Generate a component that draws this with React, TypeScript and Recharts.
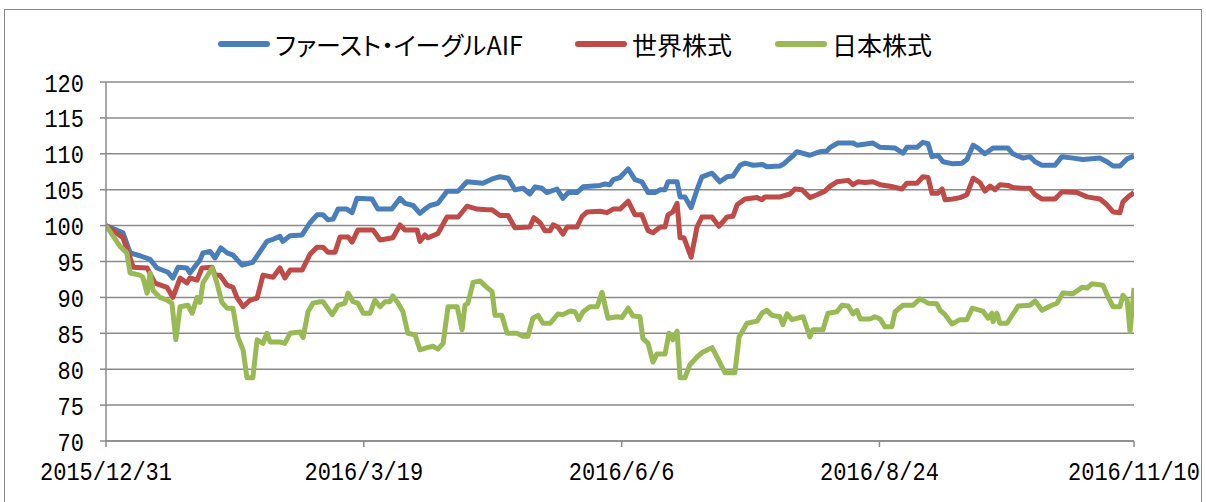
import { LineChart, Line, XAxis, YAxis, CartesianGrid } from 'recharts';

// days counted from 2015/12/31
const tickDays = [0, 79, 158, 237, 315];
const tickLabels = ['2015/12/31', '2016/3/19', '2016/6/6', '2016/8/24', '2016/11/10'];
const yTicks = [70, 75, 80, 85, 90, 95, 100, 105, 110, 115, 120];

const aifDays = [
    0, 5.2, 7.4, 10.4, 13.5, 15.6, 19, 20.5, 22.1, 24.8, 25.7, 28.8, 29.7, 31.9, 33.4, 35.2, 37.1, 38.9, 41.7, 45,
    49.3, 51.2, 53.3, 54.2, 56.4, 60.1, 62.5, 64.7, 66.5, 68, 69.6, 71.1, 73.8, 75.4, 76.9, 81.5, 83.3, 87.6, 90.1, 91.6,
    94.1, 96.2, 97.7, 99.3, 101.7, 104.5, 107.9, 110.6, 115.5, 118.3, 120.7, 123.2, 125.3, 127.8, 129.9, 131.5, 133.6, 135.1, 138.2, 140,
    141.6, 144.3, 146.2, 151.4, 152.9, 154.4, 155.4, 157.5, 160, 162.1, 164.2, 166.1, 168.2, 169.8, 171.3, 172.2, 175, 175.9, 177.4, 179.3,
    181.1, 182.6, 185.7, 188.1, 190.3, 192.1, 194.3, 195.8, 198.3, 201.3, 202.5, 206.5, 207.4, 210.2, 211.7, 215.7, 218.8, 220.9, 221.9, 224.3,
    228.9, 230.1, 235, 237.2, 241.8, 244.2, 245.4, 248.5, 250.3, 251.9, 253.1, 254.9, 256.5, 259.5, 262.3, 263.8, 265.7, 267.2, 269.3, 271.8,
    276.4, 277.9, 281, 283.1, 284.7, 286.8, 290.8, 292.9, 296.3, 299.4, 304.6, 306.7, 308.6, 310.7, 312.9, 315,
];
const aifValues = [
    100, 99.0, 96.2, 95.8, 95.3, 94.1, 93.5, 92.7, 94.2, 94.1, 93.4, 95.2, 96.2, 96.4, 95.5, 96.9, 96.2, 95.9, 94.5, 94.9,
    97.8, 98.1, 98.5, 97.8, 98.6, 98.7, 100.4, 101.5, 101.5, 100.8, 100.9, 102.3, 102.3, 101.8, 103.8, 103.7, 102.3, 102.3, 103.8, 103.1,
    102.8, 101.7, 102.3, 102.8, 103.1, 104.8, 104.8, 106.1, 105.9, 106.5, 106.8, 106.6, 105.0, 105.2, 104.4, 105.4, 105.2, 104.6, 105.1, 103.8,
    104.6, 104.6, 105.4, 105.6, 105.8, 105.7, 106.4, 106.7, 107.9, 106.4, 106.1, 104.6, 104.6, 105.0, 105.0, 106.1, 106.1, 104.0, 104.0, 102.5,
    105.0, 106.8, 107.3, 106.1, 106.8, 106.9, 108.4, 108.7, 108.4, 108.5, 108.2, 108.3, 108.5, 109.6, 110.3, 109.8, 110.3, 110.4, 110.9, 111.5,
    111.5, 111.2, 111.5, 110.9, 110.8, 110.1, 110.9, 110.9, 111.6, 111.4, 109.6, 109.8, 108.9, 108.6, 108.7, 109.2, 111.2, 110.8, 110.0, 110.8,
    110.8, 110.0, 109.4, 109.6, 108.9, 108.4, 108.4, 109.6, 109.4, 109.2, 109.4, 108.9, 108.3, 108.3, 109.3, 109.7,
];

const worldDays = [
    0, 5.2, 7.4, 8.3, 12.6, 15, 18.7, 20.5, 22.7, 24.8, 25.7, 27.9, 29.4, 32.5, 33.4, 34.9, 37.1, 38.9, 40.1, 42,
    44.1, 46.3, 48.1, 51.2, 53.3, 54.8, 56.4, 60.1, 62.5, 64.7, 66.5, 68, 70.2, 71.7, 74.2, 75.4, 77.2, 81.8, 84, 87.9,
    90.1, 91.6, 95.3, 96.2, 97.7, 98.7, 101.7, 104.5, 107.9, 110.6, 113.7, 116.7, 118.3, 120.7, 123.2, 125.3, 129.9, 131.1, 133, 134.5,
    136.1, 137, 138.5, 140, 141.3, 144.3, 145.9, 147.4, 151.4, 153.5, 155.4, 157.5, 160, 162.1, 164.2, 166.1, 167.6, 169.8, 171.3, 172.2,
    173.7, 175, 175.9, 177.1, 179.3, 181.1, 182.6, 185.7, 187.8, 190.3, 192.1, 193.4, 195.8, 199.5, 201, 201.9, 206.5, 209.6, 211.1, 213.3,
    215.7, 217.9, 220.3, 221.9, 224, 227.4, 228.9, 230.4, 232.6, 235, 237.2, 241.2, 243.9, 245.4, 248.5, 250.3, 251.9, 253.1, 254.9, 256.2,
    257.1, 259.5, 261.7, 263.8, 265.7, 267.8, 269.3, 270.9, 272.4, 273.9, 276.4, 277.9, 280.7, 283.1, 284.7, 286.8, 290.8, 292.9, 297.5, 300.6,
    304.6, 306.7, 308.6, 310.7, 311.6, 313.2, 315,
];
const worldValues = [
    100, 98.3, 95.5, 94.2, 94.1, 92.0, 91.4, 90.0, 92.7, 92.0, 92.7, 92.4, 94.1, 94.2, 93.1, 93.1, 91.7, 91.4, 90.0, 88.7,
    89.6, 89.9, 93.1, 92.8, 94.1, 92.7, 93.8, 93.8, 96.0, 97.0, 97.0, 96.3, 96.3, 98.4, 98.4, 97.7, 99.4, 99.4, 98.0, 98.3,
    100.1, 99.4, 99.4, 97.8, 98.7, 98.3, 98.9, 101.2, 101.2, 102.7, 102.3, 102.2, 102.2, 101.4, 101.4, 99.7, 99.8, 101.1, 100.4, 99.3,
    99.3, 100.1, 99.8, 98.8, 99.8, 99.8, 101.3, 101.9, 102.0, 101.8, 102.3, 102.3, 103.4, 101.5, 101.5, 99.3, 99.0, 99.8, 99.8, 101.5,
    101.9, 103.1, 98.3, 98.3, 95.6, 99.8, 101.2, 101.2, 99.9, 101.2, 101.3, 102.9, 103.7, 103.9, 103.6, 104.0, 104.0, 104.4, 105.1, 105.0,
    103.9, 104.3, 104.8, 105.5, 106.1, 106.3, 105.7, 106.1, 106.0, 106.1, 105.7, 105.4, 105.1, 105.9, 105.9, 106.8, 106.7, 104.5, 104.5, 105.1,
    103.6, 103.7, 103.9, 104.3, 106.6, 106.0, 104.8, 105.5, 105.0, 105.7, 105.6, 105.3, 105.2, 105.2, 104.3, 103.7, 103.7, 104.7, 104.6, 104.0,
    103.7, 102.9, 101.9, 101.8, 103.3, 104.0, 104.6,
];

const japanDays = [
    0, 4.3, 6.4, 7.4, 10.4, 11.3, 12.6, 13.5, 14.4, 16.5, 18.7, 20.2, 21.4, 22.7, 25.1, 26.4, 27.9, 28.8, 29.7, 32.5,
    34, 35.5, 37.1, 38.9, 40.4, 42, 43.2, 45, 46.3, 48.1, 49.3, 50.3, 53.3, 54.8, 56.4, 59.4, 60.4, 61.9, 63.4, 65.6,
    66.5, 69.3, 71.1, 73.2, 74.2, 75.7, 77.2, 78.8, 80.9, 82.4, 84, 85.5, 87, 87.9, 89.5, 91, 92.5, 94.7, 96.2, 98.4,
    100.2, 101.7, 103.3, 104.8, 107.6, 109.1, 110, 110.9, 112.5, 114.6, 116.7, 118.3, 119.2, 121.3, 122.9, 125.9, 127.8, 129.3, 130.8, 132.4,
    133.9, 136.1, 138.5, 140, 142.2, 143.7, 144.9, 146.2, 148.3, 150.5, 152, 153.8, 156.6, 158.1, 160, 161.5, 163.6, 164.5, 166.1, 167.6,
    168.8, 171.3, 172.5, 173.7, 175, 175.9, 177.4, 178.9, 181.1, 182.9, 185.7, 187.2, 188.8, 189.7, 192.7, 194, 196.4, 199.5, 201, 202.5,
    204.1, 206.5, 207.4, 208.7, 210.2, 213.6, 215.7, 216.6, 219.7, 221.2, 224, 225.5, 227.4, 228.9, 230.1, 231.1, 234.1, 235.6, 237.2, 238.7,
    240.8, 241.8, 244.2, 247.3, 249.4, 251.9, 254.6, 255.6, 257.1, 259.2, 261.7, 263.8, 265.4, 268.7, 270.3, 271.5, 271.8, 273, 273.9, 276.1,
    279.5, 283.1, 284.7, 286.8, 289.3, 291.4, 293.2, 296.3, 299.1, 300.6, 302.1, 305.5, 307, 308.6, 310.7, 311.6, 312.9, 313.8, 315,
];
const japanValues = [
    100, 97.1, 96.2, 93.4, 93.1, 92.8, 90.6, 93.4, 91.0, 90.0, 89.6, 89.2, 84.1, 88.7, 88.9, 87.8, 90.0, 89.3, 92.0, 94.1,
    92.0, 89.3, 88.5, 88.5, 84.5, 82.7, 78.8, 78.8, 84.1, 83.6, 85.0, 83.8, 83.8, 83.6, 85.0, 85.2, 84.4, 88.0, 89.2, 89.4,
    89.4, 87.6, 88.9, 89.2, 90.6, 89.4, 89.2, 87.8, 87.8, 89.6, 88.7, 89.4, 89.4, 90.2, 89.2, 88.0, 85.0, 84.8, 82.7, 83.0,
    83.2, 82.8, 83.6, 88.7, 88.7, 85.5, 88.9, 89.2, 92.1, 92.3, 91.4, 90.8, 87.5, 87.5, 85.0, 85.0, 84.6, 84.6, 87.1, 87.5,
    86.4, 86.4, 87.7, 87.6, 88.1, 88.0, 86.9, 88.0, 88.7, 88.7, 90.7, 87.1, 87.3, 87.2, 88.5, 87.4, 87.3, 84.3, 83.6, 81.0,
    82.1, 82.1, 85.0, 84.1, 85.3, 78.8, 78.8, 80.6, 81.7, 82.4, 83.0, 81.7, 80.3, 79.5, 79.5, 84.5, 86.4, 86.7, 87.8, 88.2,
    87.5, 87.3, 86.2, 87.7, 86.9, 87.3, 84.5, 85.5, 85.5, 87.8, 88.0, 88.9, 88.8, 87.7, 88.2, 87.0, 87.0, 87.3, 87.0, 85.9,
    85.9, 88.0, 88.9, 88.9, 89.8, 89.2, 89.1, 88.2, 87.6, 86.3, 86.9, 86.9, 88.5, 88.1, 87.1, 87.8, 86.6, 87.8, 86.4, 86.4,
    88.8, 88.9, 89.5, 88.2, 88.8, 89.2, 90.6, 90.5, 91.4, 91.3, 91.9, 91.7, 90.1, 88.7, 88.7, 90.3, 89.6, 85.2, 91.3,
];

const toPoints = (days: number[], values: number[]) => days.map((day, i) => ({ day, value: values[i] }));

const series = [
    { name: 'ファースト・イーグルAIF', color: '#4a7ebb', data: toPoints(aifDays, aifValues) },
    { name: '世界株式', color: '#be4b48', data: toPoints(worldDays, worldValues) },
    { name: '日本株式', color: '#98b954', data: toPoints(japanDays, japanValues) },
];

const legendPos = [218, 575, 775];

const FONT = '"Liberation Mono", monospace';

// tall, narrow tick text like the original spreadsheet font
const XTick = ({ x, y, payload }: any) => (
    <text
        transform={`translate(${x},${y}) scale(1,1.2)`}
        textAnchor="middle"
        dy="0.71em"
        fontSize={22}
        fontFamily={FONT}
        fill="#000"
    >
        {tickLabels[tickDays.indexOf(payload.value)]}
    </text>
)

const YTick = ({ x, y, payload }: any) => (
    <text
        transform={`translate(${x},${y}) scale(1,1.2)`}
        textAnchor="end"
        dy="0.36em"
        fontSize={22}
        fontFamily={FONT}
        fill="#000"
    >
        {payload.value}
    </text>
)

const App = () => {
    return (
        <div style={{ position: 'absolute', left: 0, top: 0, width: 1206, height: 502, overflow: 'hidden', background: '#fff' }}>
            {/* outer chart frame */}
            <div style={{ position: 'absolute', left: 4, top: 9, width: 1196, height: 520, border: '1.5px solid #8a8a8a' }} />

            {series.map((s, i) => (
                <div key={s.name} style={{ position: 'absolute', left: legendPos[i], top: 28, display: 'flex', alignItems: 'center', height: 32 }}>
                    <div style={{ width: 52, height: 6, borderRadius: 3, background: s.color }} />
                    <span style={{ marginLeft: 5, fontSize: 25, fontFamily: '"Noto Sans CJK JP", sans-serif', fontFeatureSettings: '"palt"', color: '#000', lineHeight: '32px' }}>
                        {s.name}
                    </span>
                </div>
            ))}

            <LineChart width={1206} height={502} margin={{ top: 82, right: 72, bottom: 21, left: 0 }} style={{ position: 'absolute', left: 0, top: 0 }}>
                <CartesianGrid vertical={false} stroke="#8a8a8a" strokeWidth={1.5} />
                <XAxis
                    dataKey="day"
                    type="number"
                    domain={[0, 315]}
                    ticks={tickDays}
                    interval={0}
                    height={40}
                    tick={<XTick />}
                    tickSize={6}
                    tickMargin={14}
                    stroke="#8a8a8a"
                    strokeWidth={1.5}
                    allowDataOverflow
                />
                <YAxis
                    type="number"
                    domain={[70, 120]}
                    ticks={yTicks}
                    interval={0}
                    width={106}
                    tick={<YTick />}
                    tickSize={6}
                    tickMargin={16}
                    stroke="#8a8a8a"
                    strokeWidth={1.5}
                />
                {series.map(s => (
                    <Line
                        key={s.name}
                        data={s.data}
                        dataKey="value"
                        type="linear"
                        stroke={s.color}
                        strokeWidth={5}
                        strokeLinejoin="round"
                        dot={false}
                        isAnimationActive={false}
                    />
                ))}
            </LineChart>
        </div>
    )
}

export default App
